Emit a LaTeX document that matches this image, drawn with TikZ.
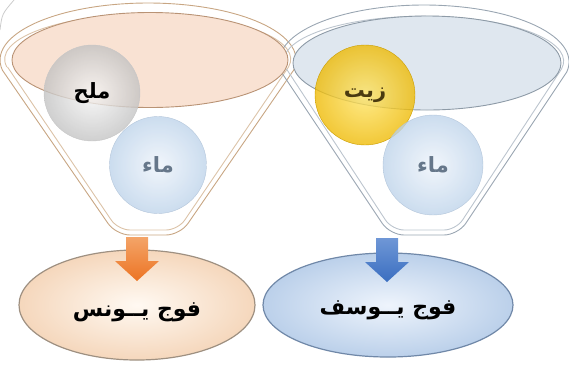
\documentclass[tikz,border=0pt]{standalone}
\usepackage{fontspec}
\newfontfamily\arabicfont[Script=Arabic]{DejaVu Sans}
\TeXXeTstate=1
\usetikzlibrary{shapes.geometric}
\definecolor{funL}{HTML}{C8A683}
\definecolor{funLin}{HTML}{DCC3A8}
\definecolor{funR}{HTML}{9AA6B2}
\definecolor{funRin}{HTML}{BCC5CE}
\definecolor{topLfill}{HTML}{F9E2D3}
\definecolor{topLdraw}{HTML}{B99375}
\definecolor{topRfill}{HTML}{DFE7EF}
\definecolor{topRdraw}{HTML}{8E9BA7}
\definecolor{saltout}{HTML}{C2C2C2}
\definecolor{saltin}{HTML}{F7F7F7}
\definecolor{waterout}{HTML}{BDD3EA}
\definecolor{waterin}{HTML}{EDF3FA}
\definecolor{oilout}{HTML}{EEB900}
\definecolor{oilin}{HTML}{FFE566}
\definecolor{botLin}{HTML}{FFF9F2}
\definecolor{botLout}{HTML}{F5D7BC}
\definecolor{botLdraw}{HTML}{9E9081}
\definecolor{botRin}{HTML}{EEF4FC}
\definecolor{botRout}{HTML}{BBD0EA}
\definecolor{botRdraw}{HTML}{7088A8}
\definecolor{arrO}{HTML}{EC7424}
\definecolor{arrOtop}{HTML}{F4A468}
\definecolor{arrB}{HTML}{3A6EC0}
\definecolor{arrBtop}{HTML}{6F97D6}
\definecolor{watertxt}{HTML}{66778A}
\definecolor{oiltxt}{HTML}{4A3A10}
\tikzset{
  rimline/.style={line width=0.9pt},
  topellipse/.style={ellipse, line width=0.9pt},
  sphere/.style={circle, minimum size=#1, fill opacity=0.78, text opacity=1, inner sep=0pt},
  sphlabel/.style={font=\arabicfont\bfseries\fontsize{21}{24}\selectfont},
  botellipse/.style={ellipse, line width=1.2pt},
  grouplabel/.style={font=\arabicfont\bfseries\fontsize{22}{26}\selectfont},
}
\begin{document}
\begin{tikzpicture}[x=1pt,y=-1pt]
\useasboundingbox (0,0) rectangle (569,365);
% faint corner arc
\draw[gray!40, line width=0.8pt] (0,30) .. controls (2,14) .. (14,0);
% left funnel (outer and inner contour)
\draw[funL, rimline] (2.2,69.9) [rounded corners=14pt] -- (116,235) -- (180,235) [sharp corners] -- (293.8,69.9)
  arc[start angle=10, end angle=-190, x radius=148, y radius=57];
\draw[funLin, rimline] (7.5,67) [rounded corners=12pt] -- (118,230) -- (178,230) [sharp corners] -- (288.5,67)
  arc[start angle=10, end angle=-190, x radius=143, y radius=45];
% right funnel
\draw[funR, rimline] (281.2,71.9) [rounded corners=14pt] -- (390,235) -- (458,235) [sharp corners] -- (566.8,71.9)
  arc[start angle=10, end angle=-190, x radius=145, y radius=57];
\draw[funRin, rimline] (286.5,69) [rounded corners=12pt] -- (392,230) -- (456,230) [sharp corners] -- (561.5,69)
  arc[start angle=10, end angle=-190, x radius=140, y radius=45];
% top ellipses
\node[topellipse, draw=topLdraw, fill=topLfill, minimum width=276pt, minimum height=95pt] (topL) at (150,60) {};
\node[topellipse, draw=topRdraw, fill=topRfill, minimum width=268pt, minimum height=94pt] (topR) at (427,63) {};
% spheres
\node[sphere=96pt, inner color=saltin, outer color=saltout, draw=gray!45, sphlabel] (salt) at (92,93) {\beginR ملح\endR};
\node[sphere=97pt, inner color=waterin, outer color=waterout, draw=waterout!85!gray, sphlabel, text=watertxt] (waterL) at (158,165) {\beginR ماء\endR};
\node[sphere=100pt, inner color=oilin, outer color=oilout, draw=oilout!85!black, sphlabel, text=oiltxt] (oil) at (365,95) {\beginR زيت\endR};
\node[sphere=100pt, inner color=waterin, outer color=waterout, draw=waterout!85!gray, sphlabel, text=watertxt] (waterR) at (433,165) {\beginR ماء\endR};
% bottom ellipses
\node[botellipse, draw=botLdraw, inner color=botLin, outer color=botLout, minimum width=236pt, minimum height=110pt] (groupL) at (137,305) {};
\node[botellipse, draw=botRdraw, inner color=botRin, outer color=botRout, minimum width=250pt, minimum height=104pt] (groupR) at (388,305) {};
\node[grouplabel] (labL) at (137,312) {\beginR فوج يــونس\endR};
\node[grouplabel] (labR) at (388,310) {\beginR فوج يــوسف\endR};
% block arrows
\shade[top color=arrOtop, bottom color=arrO] (126,237) -- (148,237) -- (148,261) -- (159,261) -- (137,281) -- (115,261) -- (126,261) -- cycle;
\shade[top color=arrBtop, bottom color=arrB] (376,238) -- (398,238) -- (398,262) -- (409,262) -- (387,282) -- (365,262) -- (376,262) -- cycle;
\end{tikzpicture}
\end{document}
